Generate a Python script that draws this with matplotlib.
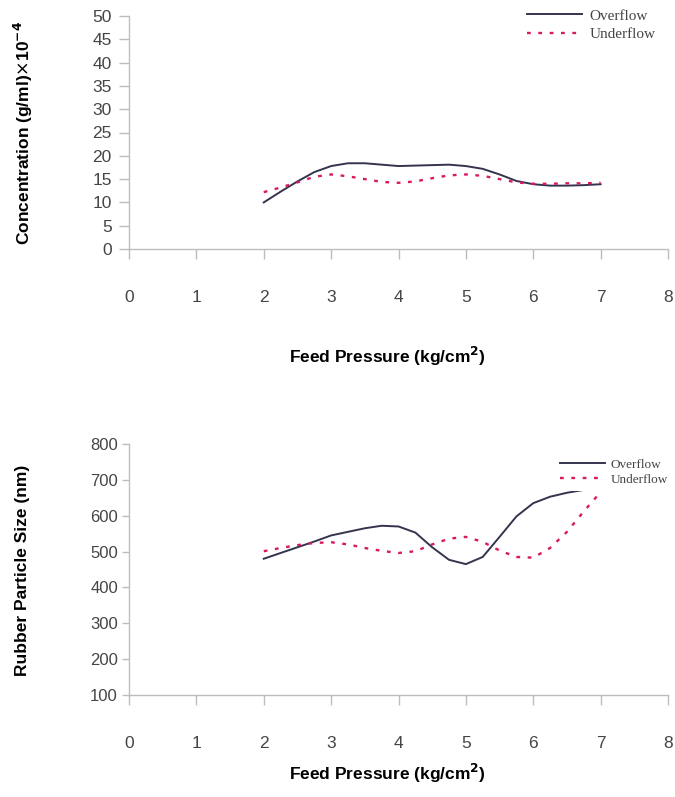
import matplotlib
matplotlib.use("Agg")
import matplotlib.pyplot as plt

# feed pressure steps (kg/cm2)
pressure = [2.0, 2.25, 2.5, 2.75, 3.0, 3.25, 3.5, 3.75, 4.0, 4.25, 4.5,
            4.75, 5.0, 5.25, 5.5, 5.75, 6.0, 6.25, 6.5, 6.75, 7.0]

# concentration (g/ml) x 10^-4
conc_over = [10.0, 12.3, 14.5, 16.5, 17.8, 18.4, 18.4, 18.1, 17.8, 17.9, 18.0,
             18.1, 17.8, 17.2, 16.0, 14.6, 13.9, 13.6, 13.6, 13.7, 13.9]
conc_under = [12.2, 13.2, 14.3, 15.5, 16.0, 15.6, 15.0, 14.4, 14.2, 14.5, 15.2,
              15.8, 16.0, 15.7, 15.0, 14.3, 14.0, 14.0, 14.1, 14.1, 14.2]

# rubber particle size (nm)
size_over = [480, 496, 512, 528, 545, 555, 565, 572, 570, 553, 512,
             477, 465, 485, 541, 598, 635, 653, 664, 672, 680]
size_under = [501, 510, 518, 524, 526, 520, 510, 502, 496, 501, 520,
              536, 541, 527, 503, 485, 483, 510, 555, 612, 666]

x_ticks = [0, 1, 2, 3, 4, 5, 6, 7, 8]
conc_ticks = list(range(0, 55, 5))
size_ticks = list(range(100, 900, 100))

OVER_C = "#34344f"
UNDER_C = "#d81b60"
AXIS_C = "#bdbdbd"
TICK_C = "#454545"

fig = plt.figure(figsize=(6.75, 7.97), dpi=100)
ax1 = fig.add_axes([129/675, 1-249/797, 539/675, 233/797])
ax2 = fig.add_axes([129/675, 1-695/797, 539/675, 251/797])


def style(ax, ylim, yticks, ytl, ypad, ysize):
    ax.set_xlim(0, 8)
    ax.set_ylim(*ylim)
    ax.set_xticks(x_ticks)
    ax.set_yticks(yticks)
    for s in ["top", "right"]:
        ax.spines[s].set_visible(False)
    for s in ["left", "bottom"]:
        ax.spines[s].set_color(AXIS_C)
        ax.spines[s].set_linewidth(1.0)
    ax.tick_params(axis="x", direction="out", length=7.5, width=1.0, color=AXIS_C,
                   pad=22, labelsize=12.5, labelcolor=TICK_C)
    ax.tick_params(axis="y", direction="out", length=ytl, width=1.0, color=AXIS_C,
                   pad=ypad, labelsize=ysize, labelcolor=TICK_C)
    for lab in ax.get_xticklabels() + ax.get_yticklabels():
        lab.set_fontfamily("Liberation Sans")


def draw(ax, over, under):
    ax.plot(pressure, over, color=OVER_C, lw=1.4, label="Overflow", zorder=2)
    ax.plot(pressure, under, color=UNDER_C, lw=1.7, ls=(0, (1.6, 3.2)),
            label="Underflow", zorder=2)


def legend(ax, anchor, size, hl, ls, bp):
    leg = ax.legend(loc="upper left", bbox_to_anchor=anchor, frameon=True,
                    facecolor="white", edgecolor="none", framealpha=1,
                    prop={"family": "Liberation Serif", "size": size},
                    handlelength=hl, handletextpad=0.45, labelspacing=ls,
                    borderpad=bp, borderaxespad=0)
    leg.set_zorder(5)
    for t in leg.get_texts():
        t.set_color(TICK_C)


label_kw = dict(fontsize=12.5, fontweight="bold", family="Liberation Sans", va="center")

draw(ax1, conc_over, conc_under)
style(ax1, (0, 50), conc_ticks, 7.5, 5, 12.5)
legend(ax1, (0.729, 1.05), 11, 3.66, 0.3, 0.3)
ax1.set_xlabel("Feed Pressure (kg/cm$^\\mathbf{2}$)", **label_kw)
ax1.xaxis.set_label_coords(0.479, -0.463)
ax1.set_ylabel("Concentration (g/ml)$\\times$10$^\\mathbf{-4}$", **label_kw)
ax1.yaxis.set_label_coords(-0.195, 0.50)

draw(ax2, size_over, size_under)
style(ax2, (100, 800), size_ticks, 5, 3, 12)
legend(ax2, (0.790, 0.962), 9.5, 3.4, 0.2, 0.4)
ax2.set_xlabel("Feed Pressure (kg/cm$^\\mathbf{2}$)", **label_kw)
ax2.xaxis.set_label_coords(0.479, -0.312)
ax2.set_ylabel("Rubber Particle Size (nm)", **label_kw)
ax2.yaxis.set_label_coords(-0.197, 0.498)

fig.savefig("out.png", dpi=100, facecolor="white")
